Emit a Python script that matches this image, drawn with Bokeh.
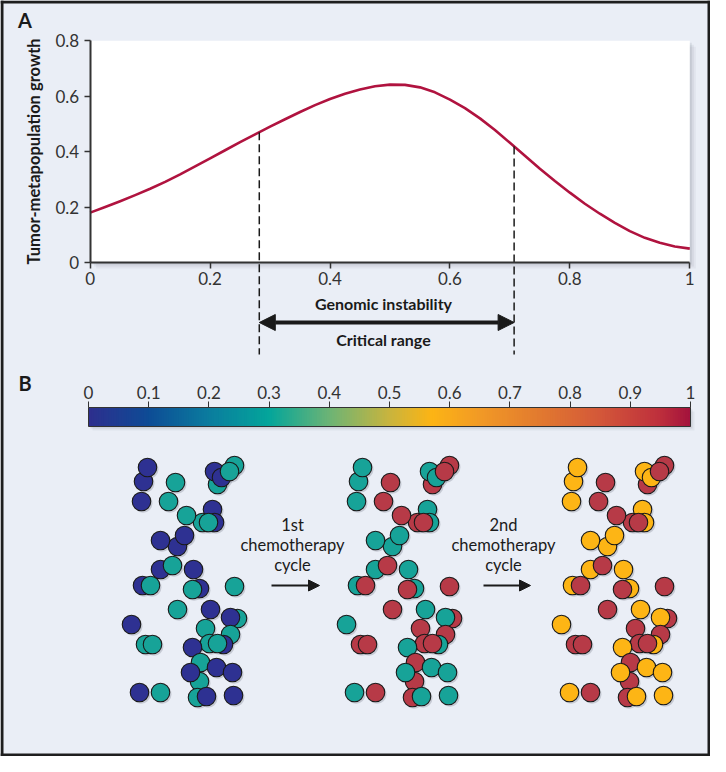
import numpy as np
from bokeh.plotting import figure
from bokeh.models import Range1d, LinearAxis, FixedTicker, Arrow, NormalHead
from bokeh.core.properties import value
from bokeh.embed import file_html
from bokeh.resources import INLINE

# ---------------- data ----------------
growth_x = [0.000, 0.025, 0.050, 0.075, 0.100, 0.125, 0.150, 0.175, 0.200, 0.225,
            0.250, 0.275, 0.300, 0.325, 0.350, 0.375, 0.400, 0.425, 0.450, 0.475,
            0.500, 0.525, 0.550, 0.575, 0.600, 0.625, 0.650, 0.675, 0.700, 0.725,
            0.750, 0.775, 0.800, 0.825, 0.850, 0.875, 0.900, 0.925, 0.950, 0.975, 1.000]
growth_y = [0.180, 0.200, 0.221, 0.243, 0.266, 0.291, 0.318, 0.347, 0.376, 0.405,
            0.434, 0.462, 0.490, 0.517, 0.543, 0.568, 0.590, 0.609, 0.624, 0.636,
            0.642, 0.641, 0.632, 0.614, 0.588, 0.557, 0.520, 0.478, 0.432, 0.385,
            0.338, 0.294, 0.252, 0.212, 0.176, 0.143, 0.113, 0.089, 0.071, 0.058, 0.050]
critical_x = [0.282, 0.707]
critical_growth = [0.470, 0.419]

x_ticks = [0, 0.2, 0.4, 0.6, 0.8, 1]
x_tick_labels = ["0", "0.2", "0.4", "0.6", "0.8", "1"]
y_ticks = [0, 0.2, 0.4, 0.6, 0.8]
y_tick_labels = ["0", "0.2", "0.4", "0.6", "0.8"]

cbar_ticks = [0, 0.1, 0.2, 0.3, 0.4, 0.5, 0.6, 0.7, 0.8, 0.9, 1]
cbar_tick_labels = ["0", "0.1", "0.2", "0.3", "0.4", "0.5", "0.6", "0.7", "0.8", "0.9", "1"]
cbar_stop_values = [0.0, 0.1, 0.2, 0.3, 0.4, 0.5, 0.57, 0.65, 0.75, 0.85, 0.95, 1.0]
cbar_stop_colors = ["#2E2F8E", "#0E4C96", "#0B7D9F", "#04A69B", "#6DB476", "#C9B43E",
                    "#FDB515", "#F29A26", "#E27A30", "#D4583A", "#BE2F3D", "#A3123C"]

# cells: reference-pixel positions, kind 0 = starts dark blue, kind 1 = starts teal
cell_x = [151, 155, 149, 183, 176, 225, 242, 222, 229, 237, 220, 222, 210, 194, 216,
          185, 168, 192, 168, 180, 201, 150, 158, 207, 200, 242, 185, 218, 139,
          245, 238, 213, 238, 153, 160, 231, 217, 225, 200, 208, 207, 224, 240, 198,
          147, 168, 205, 214, 241]
cell_y = [489, 475, 509, 490, 509, 492, 473, 479, 485, 479, 517, 530, 530, 523, 530,
          554, 548, 543, 577, 573, 577, 593, 593, 596, 597, 594, 617, 617, 632,
          626, 625, 636, 642, 652, 652, 652, 651, 651, 655, 670, 689, 675, 680, 680,
          700, 700, 705, 704, 703]
cell_kind = [0, 0, 0, 1, 1, 1, 1, 0, 0, 1, 0, 0, 1, 1, 1,
             0, 0, 0, 0, 1, 0, 0, 1, 0, 1, 1, 1, 0, 0,
             1, 0, 1, 1, 1, 1, 0, 1, 1, 0, 1, 1, 0, 0, 0,
             0, 1, 1, 0, 0]
cycle_shift = [0, 215, 430]
cycle_colors = [["#2E3192", "#17A398"], ["#17A398", "#B73A47"], ["#FDB515", "#B73A47"]]
cycle_text = [["1st", "chemotherapy", "cycle"], ["2nd", "chemotherapy", "cycle"]]

# ---------------- layout helpers ----------------
W, H = 710, 756
M = 8                      # page margin (reference px -> canvas px)
AX0, AX1 = 97.7, 697.3     # reference px of growth x = 0 and x = 1
AY0, AY1 = 270.0, 48.3     # reference px of growth y = 0 and y = 0.8
CB0, CB1 = 96.0, 698.0     # reference px of colour bar 0 and 1
BG = "#EAEEF6"
INK = "#1a1a1a"
FONT = "Lato"


def gx(px):
    return (px - AX0) / (AX1 - AX0)


def gy(py):
    return (AY0 - py) * 0.8 / (AY0 - AY1)


def cbx(px):
    return (px - CB0) / (CB1 - CB0)


p = figure(width=W, height=H, title=None,
           x_range=Range1d(gx(M), gx(M + W)), y_range=Range1d(gy(M + H), gy(M)),
           x_axis_type=None, y_axis_type=None, toolbar_location=None,
           output_backend="svg", min_border=0,
           background_fill_color=BG, border_fill_color=BG, outline_line_color=None)
p.extra_x_ranges = {"px": Range1d(M, M + W), "cb": Range1d(cbx(M), cbx(M + W))}
p.extra_y_ranges = {"py": Range1d(M + H, M)}

# ---------------- panel A ----------------
for d, a in [(6, 0.05), (4, 0.07), (2, 0.10)]:
    p.quad(left=[AX0 + d], right=[AX1 + d], top=[AY1 + d], bottom=[AY0 + d],
           x_range_name="px", y_range_name="py",
           fill_color="#3a4050", fill_alpha=a, line_color=None)
p.quad(left=[0], right=[1], bottom=[0], top=[0.8], fill_color="white", line_color=None)

p.line(growth_x, growth_y, line_color="#B0133F", line_width=2.6, line_join="round")

p.segment(x0=critical_x, y0=critical_growth, x1=critical_x, y1=[gy(362)] * 2,
          line_color=INK, line_width=1.5, line_dash="8 4")

p.add_layout(Arrow(start=NormalHead(size=16, fill_color=INK, line_color=INK),
                   end=NormalHead(size=16, fill_color=INK, line_color=INK),
                   x_start=critical_x[0], y_start=gy(330), x_end=critical_x[1], y_end=gy(330),
                   line_width=4, line_color=INK))

xa = LinearAxis(fixed_location=0, bounds=(0, 1), ticker=FixedTicker(ticks=x_ticks),
                major_label_overrides=dict(zip(x_ticks, x_tick_labels)))
ya = LinearAxis(fixed_location=0, bounds=(0, 0.8), ticker=FixedTicker(ticks=y_ticks),
                major_label_overrides=dict(zip(y_ticks, y_tick_labels)),
                axis_label="Tumor-metapopulation growth")
for ax in (xa, ya):
    ax.axis_line_color = "#333333"
    ax.axis_line_width = 2
    ax.major_tick_line_color = "#333333"
    ax.major_tick_line_width = 1.5
    ax.major_tick_out = 6
    ax.major_tick_in = 0
    ax.minor_tick_line_color = None
    ax.major_label_text_font = FONT
    ax.major_label_text_font_size = "17px"
    ax.major_label_text_color = "#333333"
xa.major_label_standoff = 3
ya.major_label_standoff = 5
ya.axis_label_text_font = FONT
ya.axis_label_text_font_size = "16.5px"
ya.axis_label_text_font_style = "bold"
ya.axis_label_text_color = INK
ya.axis_label_standoff = 9
p.add_layout(xa, "below")
p.add_layout(ya, "left")

p.text(x=[391, 391], y=[311, 347], text=["Genomic instability", "Critical range"],
       x_range_name="px", y_range_name="py", text_align="center", text_baseline="middle",
       text_font=value(FONT), text_font_size="16px", text_font_style="bold", text_color=INK)

p.text(x=[32.5, 32.5], y=[27.5, 390], text=["A", "B"], x_range_name="px", y_range_name="py",
       text_align="center", text_baseline="middle", text_font=value(FONT),
       text_font_size="20px", text_font_style="bold", text_color=INK)

# ---------------- colour bar ----------------
def hex_rgb(h):
    return [int(h[i:i + 2], 16) for i in (1, 3, 5)]


stops_rgb = np.array([hex_rgb(c) for c in cbar_stop_colors], dtype=float)
n = 240
edges = np.linspace(0, 1, n + 1)
mids = (edges[:-1] + edges[1:]) / 2
cols = []
for m in mids:
    r, g, b = (np.interp(m, cbar_stop_values, stops_rgb[:, k]) for k in range(3))
    cols.append("#%02x%02x%02x" % (int(r), int(g), int(b)))
rights = np.minimum(edges[1:] + 0.004, 1.0)

for d, a in [(4, 0.06), (2, 0.10)]:
    p.quad(left=[CB0 + d], right=[CB1 + d], top=[415 + d], bottom=[434 + d],
           x_range_name="px", y_range_name="py",
           fill_color="#3a4050", fill_alpha=a, line_color=None)
p.quad(left=edges[:-1], right=rights, top=415, bottom=434, x_range_name="cb",
       y_range_name="py", fill_color=cols, line_color=None)
p.quad(left=[0], right=[1], top=[415], bottom=[434], x_range_name="cb", y_range_name="py",
       fill_color=None, line_color="#333333", line_width=1)

ca = LinearAxis(x_range_name="cb", y_range_name="py", fixed_location=415, bounds=(0, 1),
                ticker=FixedTicker(ticks=cbar_ticks),
                major_label_overrides=dict(zip(cbar_ticks, cbar_tick_labels)))
ca.axis_line_color = None
ca.major_tick_line_color = "#333333"
ca.major_tick_line_width = 1
ca.major_tick_out = 6
ca.major_tick_in = 0
ca.minor_tick_line_color = None
ca.major_label_text_font = FONT
ca.major_label_text_font_size = "17px"
ca.major_label_text_color = "#333333"
ca.major_label_standoff = 3
p.add_layout(ca, "above")

# ---------------- cell populations ----------------
cx = np.array(cell_x, dtype=float)
cy = np.array(cell_y, dtype=float)
for shift, colors in zip(cycle_shift, cycle_colors):
    p.scatter(cx + shift + 1.5, cy + 1.8, x_range_name="px", y_range_name="py",
              marker="circle", size=19, fill_color="#5a6070", fill_alpha=0.25, line_color=None)
    p.scatter(cx + shift, cy, x_range_name="px", y_range_name="py", marker="circle",
              size=18.5, fill_color=[colors[k] for k in cell_kind],
              line_color=INK, line_width=1.1)

for i, (lines, xc) in enumerate(zip(cycle_text, [300, 511])):
    p.text(x=[xc] * 3, y=[532, 552, 572], text=lines, x_range_name="px", y_range_name="py",
           text_align="center", text_baseline="middle", text_font=value(FONT),
           text_font_size="16.5px", text_color=INK)
    x0, x1 = [(279, 327), (491, 538)][i]
    p.add_layout(Arrow(end=NormalHead(size=11, fill_color=INK, line_color=INK),
                       x_start=x0, y_start=593, x_end=x1, y_end=593,
                       x_range_name="px", y_range_name="py", line_width=2, line_color=INK))

# ---------------- frame border ----------------
p.quad(left=[M, M, M, M + W - 3], right=[M + W, M + W, M + 3, M + W],
       top=[M, M + H - 3, M, M], bottom=[M + 3, M + H, M + H, M + H],
       x_range_name="px", y_range_name="py", fill_color="#1e1e1e", line_color=None)

open("out.html", "w").write(file_html(p, INLINE))
